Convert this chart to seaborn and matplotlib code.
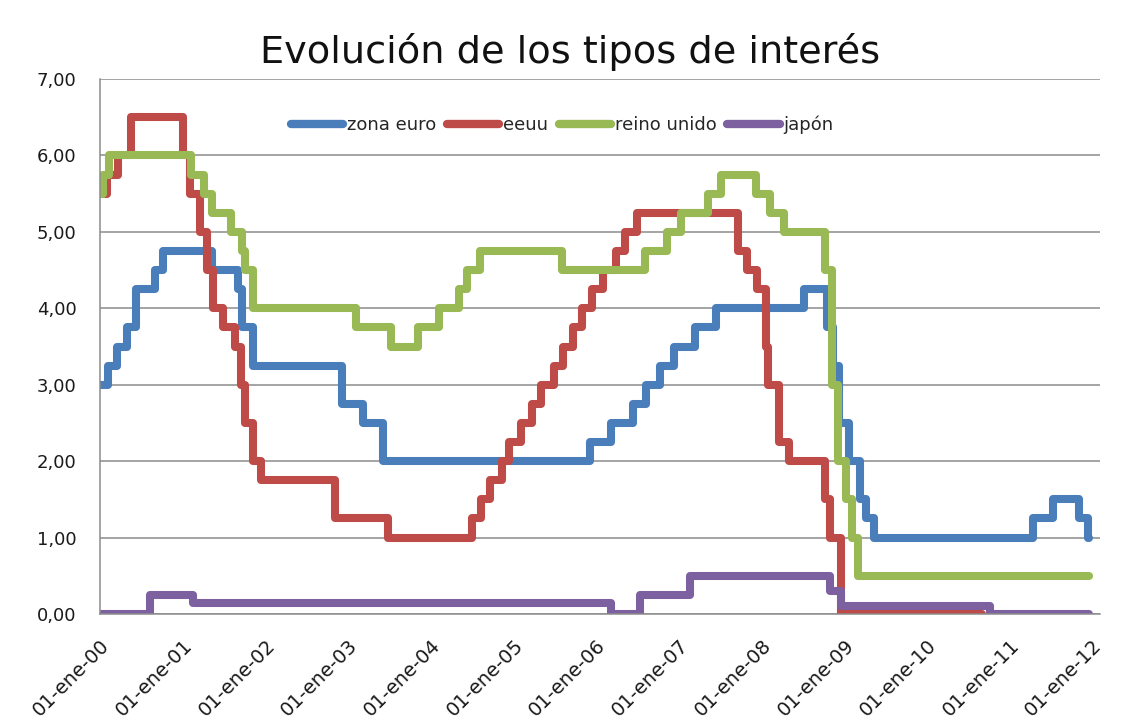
import matplotlib
matplotlib.use("Agg")
import matplotlib.pyplot as plt
import seaborn as sns
import pandas as pd

# Series y colores (estilo Excel)
series = ["zona euro", "eeuu", "reino unido", "japón"]
colores = ["#4A7EBB", "#BE4B48", "#98B954", "#7D60A0"]

# Tipos oficiales: fecha del cambio y nuevo tipo
euro_fechas = ["2000-01-01", "2000-02-04", "2000-03-17", "2000-04-28", "2000-06-09",
               "2000-09-01", "2000-10-06", "2001-05-11", "2001-08-31", "2001-09-18",
               "2001-11-09", "2002-12-06", "2003-03-07", "2003-06-06", "2005-12-06",
               "2006-03-08", "2006-06-15", "2006-08-09", "2006-10-11", "2006-12-13",
               "2007-03-14", "2007-06-13", "2008-07-09", "2008-10-15", "2008-11-12",
               "2008-12-10", "2009-01-21", "2009-03-11", "2009-04-08", "2009-05-13",
               "2011-04-13", "2011-07-13", "2011-11-03", "2011-12-14", "2011-12-20"]
euro_tipos = [3.00, 3.25, 3.50, 3.75, 4.25, 4.50, 4.75, 4.50, 4.25, 3.75,
              3.25, 2.75, 2.50, 2.00, 2.25, 2.50, 2.75, 3.00, 3.25, 3.50,
              3.75, 4.00, 4.25, 3.75, 3.25, 2.50, 2.00, 1.50, 1.25, 1.00,
              1.25, 1.50, 1.25, 1.00, 1.00]

eeuu_fechas = ["2000-01-01", "2000-02-02", "2000-03-21", "2000-05-16", "2001-01-03",
               "2001-01-31", "2001-03-20", "2001-04-18", "2001-05-15", "2001-06-27",
               "2001-08-21", "2001-09-17", "2001-10-02", "2001-11-06", "2001-12-11",
               "2002-11-06", "2003-06-25", "2004-06-30", "2004-08-10", "2004-09-21",
               "2004-11-10", "2004-12-14", "2005-02-02", "2005-03-22", "2005-05-03",
               "2005-06-30", "2005-08-09", "2005-09-20", "2005-11-01", "2005-12-13",
               "2006-01-31", "2006-03-28", "2006-05-10", "2006-06-29", "2007-09-18",
               "2007-10-31", "2007-12-11", "2008-01-22", "2008-01-30", "2008-03-18",
               "2008-04-30", "2008-10-08", "2008-10-29", "2008-12-16", "2010-09-01"]
eeuu_tipos = [5.50, 5.75, 6.00, 6.50, 6.00, 5.50, 5.00, 4.50, 4.00, 3.75,
              3.50, 3.00, 2.50, 2.00, 1.75, 1.25, 1.00, 1.25, 1.50, 1.75,
              2.00, 2.25, 2.50, 2.75, 3.00, 3.25, 3.50, 3.75, 4.00, 4.25,
              4.50, 4.75, 5.00, 5.25, 4.75, 4.50, 4.25, 3.50, 3.00, 2.25,
              2.00, 1.50, 1.00, 0.00, 0.00]

uk_fechas = ["2000-01-01", "2000-01-13", "2000-02-10", "2001-02-08", "2001-04-05",
             "2001-05-10", "2001-08-02", "2001-09-18", "2001-10-04", "2001-11-08",
             "2003-02-06", "2003-07-10", "2003-11-06", "2004-02-05", "2004-05-06",
             "2004-06-10", "2004-08-05", "2005-08-04", "2006-08-03", "2006-11-09",
             "2007-01-11", "2007-05-10", "2007-07-05", "2007-12-06", "2008-02-07",
             "2008-04-10", "2008-10-08", "2008-11-06", "2008-12-04", "2009-01-08",
             "2009-02-05", "2009-03-05", "2011-12-20"]
uk_tipos = [5.50, 5.75, 6.00, 5.75, 5.50, 5.25, 5.00, 4.75, 4.50, 4.00,
            3.75, 3.50, 3.75, 4.00, 4.25, 4.50, 4.75, 4.50, 4.75, 5.00,
            5.25, 5.50, 5.75, 5.50, 5.25, 5.00, 4.50, 3.00, 2.00, 1.50,
            1.00, 0.50, 0.50]

japon_fechas = ["2000-01-01", "2000-08-11", "2001-02-15", "2006-03-09", "2006-07-14",
                "2007-02-21", "2008-10-31", "2008-12-19", "2010-10-05", "2011-12-20"]
japon_tipos = [0.00, 0.25, 0.15, 0.00, 0.25, 0.50, 0.30, 0.10, 0.00, 0.00]

anios = list(range(2000, 2013))
etiquetas_x = ["01-ene-%02d" % (a % 100) for a in anios]
valores_y = [0, 1, 2, 3, 4, 5, 6, 7]
etiquetas_y = ["%d,00" % v for v in valores_y]

frames = []
for nombre, f, t in zip(series,
                        [euro_fechas, eeuu_fechas, uk_fechas, japon_fechas],
                        [euro_tipos, eeuu_tipos, uk_tipos, japon_tipos]):
    frames.append(pd.DataFrame({"fecha": pd.to_datetime(f), "tipo": t, "serie": nombre}))
df = pd.concat(frames, ignore_index=True)

sns.set_style("white")
plt.rcParams["font.family"] = ["DejaVu Sans"]

fig = plt.figure(figsize=(11.29, 7.25), dpi=100)
ax = fig.add_axes([100 / 1129, 1 - 614 / 725, 1000 / 1129, 535 / 725])

sns.lineplot(data=df, x="fecha", y="tipo", hue="serie", hue_order=series,
             palette=colores, estimator=None, drawstyle="steps-post",
             linewidth=5.8, solid_joinstyle="round", solid_capstyle="round",
             ax=ax)

ax.set_xlim(pd.Timestamp("2000-01-01"), pd.Timestamp("2012-02-05"))
ax.set_ylim(0, 7)
ax.set_yticks(valores_y)
ax.set_yticklabels(etiquetas_y)
ax.set_xticks(pd.to_datetime(["%d-01-01" % a for a in anios]))
ax.set_xticklabels(etiquetas_x)
ax.set_xlabel("")
ax.set_ylabel("")

ax.grid(axis="y", color="#8c8c8c", linewidth=1.1)
ax.set_axisbelow(True)
for s in ["top", "right"]:
    ax.spines[s].set_visible(False)
for s in ["left", "bottom"]:
    ax.spines[s].set_color("#8c8c8c")
    ax.spines[s].set_linewidth(1.1)

ax.tick_params(axis="both", direction="out", length=7, width=1.1, color="#8c8c8c",
               labelcolor="#1a1a1a")
ax.tick_params(axis="y", labelsize=13, pad=10)
ax.tick_params(axis="x", labelsize=14, pad=9)
for lab in ax.get_xticklabels():
    lab.set_rotation(45)
    lab.set_ha("right")
    lab.set_rotation_mode("anchor")

sns.move_legend(ax, "center", bbox_to_anchor=(562 / 1129, 1 - 125 / 725),
                bbox_transform=fig.transFigure, ncol=4, frameon=False, title=None,
                fontsize=13, handlelength=2.9, handletextpad=0.2, columnspacing=0.6)
for h in ax.get_legend().get_lines():
    h.set_linewidth(6)
    h.set_solid_capstyle("round")

fig.text(570 / 1129, 1 - 52 / 725, "Evolución de los tipos de interés",
         ha="center", va="center", fontsize=27.5, color="#111111")

fig.savefig("out.png", dpi=100, facecolor="white")
